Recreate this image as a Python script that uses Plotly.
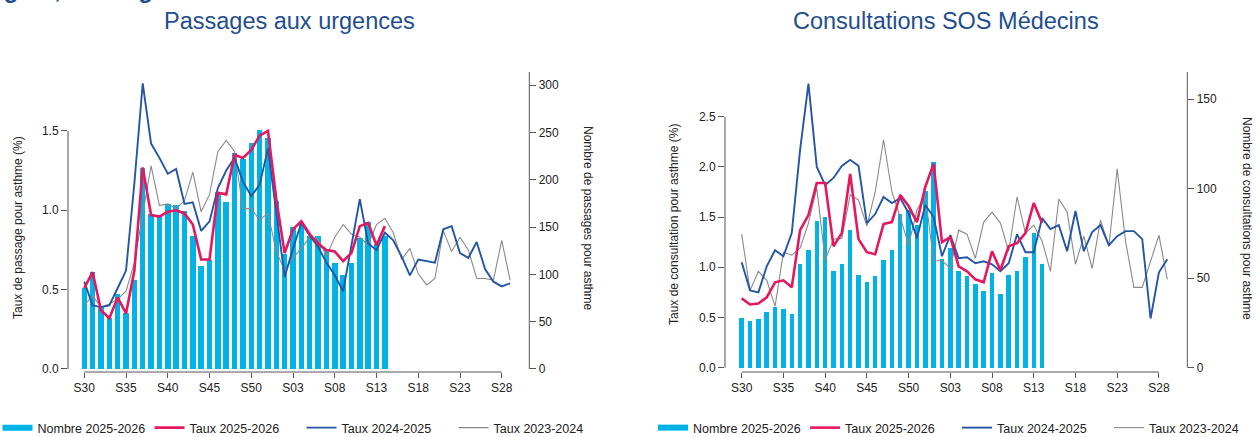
import plotly.graph_objects as go

W, H = 1260, 437

weeks = ["S30", "S31", "S32", "S33", "S34", "S35", "S36", "S37", "S38", "S39",
         "S40", "S41", "S42", "S43", "S44", "S45", "S46", "S47", "S48", "S49",
         "S50", "S51", "S52", "S01", "S02", "S03", "S04", "S05", "S06", "S07",
         "S08", "S09", "S10", "S11", "S12", "S13", "S14", "S15", "S16", "S17",
         "S18", "S19", "S20", "S21", "S22", "S23", "S24", "S25", "S26", "S27",
         "S28", "S29"]
tick_weeks = ["S30", "S35", "S40", "S45", "S50", "S03", "S08", "S13", "S18", "S23", "S28"]

# ---- Passages aux urgences ----
urg_nombre_2025_26 = [86, 103, 66, 54, 79, 59, 94, 212, 164, 163,
                      174, 173, 167, 140, 109, 115, 187, 176, 228, 222,
                      239, 253, 244, 178, 121, 150, 155, 140, 140, 126,
                      112, 99, 112, 138, 155, 132, 140]
urg_taux_2025_26 = [0.51, 0.61, 0.37, 0.32, 0.45, 0.35, 0.62, 1.27, 0.97, 0.96,
                    0.99, 1.00, 0.98, 0.91, 0.69, 0.69, 1.11, 1.10, 1.35, 1.33,
                    1.38, 1.47, 1.50, 1.07, 0.73, 0.88, 0.93, 0.85, 0.79, 0.75,
                    0.74, 0.68, 0.73, 0.90, 0.92, 0.78, 0.90]
urg_taux_2024_25 = [0.55, 0.40, 0.39, 0.40, 0.51, 0.62, 1.17, 1.80, 1.42, 1.33,
                    1.23, 1.26, 1.04, 1.05, 0.87, 0.93, 1.14, 1.25, 1.33, 1.18,
                    1.09, 1.16, 1.39, 1.00, 0.58, 0.76, 0.92, 0.84, 0.77, 0.67,
                    0.59, 0.49, 0.79, 1.07, 0.79, 0.75, 0.86, 0.81, 0.71, 0.59,
                    0.69, 0.68, 0.67, 0.88, 0.90, 0.73, 0.70, 0.80, 0.63, 0.55,
                    0.52, 0.54]
urg_taux_2023_24 = [0.40, 0.46, 0.39, 0.41, 0.44, 0.49, 0.67, 0.98, 1.28, 1.03,
                    1.04, 1.01, 1.06, 1.24, 0.99, 1.10, 1.37, 1.44, 1.37, 1.01,
                    1.01, 0.94, 0.98, 0.74, 0.62, 0.70, 0.76, 0.83, 0.82, 0.71,
                    0.83, 0.91, 0.85, 0.83, 0.78, 0.91, 0.95, 0.86, 0.69, 0.76,
                    0.60, 0.53, 0.57, 0.87, 0.74, 0.83, 0.75, 0.57, 0.57, 0.56,
                    0.81, 0.56]
urg_rate_ticks = [0.0, 0.5, 1.0, 1.5]
urg_count_ticks = [0, 50, 100, 150, 200, 250, 300]

# ---- Consultations SOS Médecins ----
sos_nombre_2025_26 = [28, 26, 27, 31, 34, 33, 30, 58, 66, 82,
                      84, 54, 58, 77, 52, 48, 51, 60, 66, 86,
                      88, 80, 99, 115, 61, 67, 54, 51, 47, 43,
                      53, 41, 52, 54, 62, 75, 58]
sos_taux_2025_26 = [0.69, 0.63, 0.64, 0.70, 0.85, 0.87, 0.80, 1.37, 1.52, 1.84,
                    1.84, 1.21, 1.34, 1.93, 1.28, 1.15, 1.13, 1.43, 1.45, 1.72,
                    1.61, 1.45, 1.80, 2.03, 1.25, 1.30, 1.01, 0.96, 0.88, 0.85,
                    1.16, 0.97, 1.21, 1.24, 1.34, 1.64, 1.44]
sos_taux_2024_25 = [1.05, 0.77, 0.75, 1.01, 1.17, 1.11, 1.34, 2.17, 2.83, 2.00,
                    1.82, 1.89, 2.01, 2.07, 2.01, 1.44, 1.53, 1.70, 1.64, 1.69,
                    1.54, 1.29, 1.62, 1.50, 1.11, 1.32, 1.09, 1.10, 1.04, 1.06,
                    1.03, 0.96, 1.04, 1.33, 1.15, 1.15, 1.49, 1.38, 1.42, 1.16,
                    1.56, 1.16, 1.35, 1.42, 1.22, 1.31, 1.36, 1.36, 1.28, 0.49,
                    0.95, 1.08]
sos_taux_2023_24 = [1.33, 0.77, 0.96, 0.87, 0.61, 1.15, 1.12, 1.19, 1.44, 1.79,
                    1.07, 1.28, 1.29, 1.72, 1.67, 1.41, 1.75, 2.27, 1.75, 1.50,
                    1.22, 1.57, 1.72, 1.06, 1.07, 0.99, 1.37, 1.33, 1.09, 1.45,
                    1.55, 1.44, 1.16, 1.70, 1.34, 1.42, 1.26, 0.96, 1.68, 1.55,
                    1.03, 1.31, 0.99, 1.47, 1.21, 1.98, 1.26, 0.80, 0.80, 1.06,
                    1.32, 0.88]
sos_rate_ticks = [0.0, 0.5, 1.0, 1.5, 2.0, 2.5]
sos_count_ticks = [0, 50, 100, 150]

C_BAR = "#00B2E6"
C_RED = "#E5175E"
C_BLUE = "#2456A4"
C_GRAY = "#8A8A8A"
C_TITLE = "#1F4E8F"
C_AXIS = "#555555"
FONT = "Liberation Sans, Arial, sans-serif"

def px(p):
    return p / W

def py(p):
    return 1 - p / H

ydom = [py(372), py(72)]

fig = go.Figure()

def add_panel(xa, ya_cnt, ya_rate, legend, counts, r_cur, r_prev, r_prev2, bw):
    xr = "x" if xa == "xaxis" else "x" + xa[5:]
    yc = "y" if ya_cnt == "yaxis" else "y" + ya_cnt[5:]
    yr = "y" + ya_rate[5:]
    n = len(counts)
    fig.add_trace(go.Scatter(x=[None], y=[None], mode="lines", name="Nombre 2025-2026",
                             line=dict(color=C_BAR, width=6), xaxis=xr, yaxis=yc,
                             legend=legend, legendrank=1, hoverinfo="skip"))
    fig.add_trace(go.Bar(x=weeks[:n], y=counts, marker=dict(color=C_BAR, line=dict(width=0)),
                         width=bw, xaxis=xr, yaxis=yc, showlegend=False))
    fig.add_trace(go.Scatter(x=weeks[:len(r_prev2)], y=r_prev2, mode="lines", name="Taux 2023-2024",
                             line=dict(color=C_GRAY, width=1.1), xaxis=xr, yaxis=yr,
                             legend=legend, legendrank=4))
    fig.add_trace(go.Scatter(x=weeks[:len(r_prev)], y=r_prev, mode="lines", name="Taux 2024-2025",
                             line=dict(color=C_BLUE, width=1.9), xaxis=xr, yaxis=yr,
                             legend=legend, legendrank=3))
    fig.add_trace(go.Scatter(x=weeks[:len(r_cur)], y=r_cur, mode="lines", name="Taux 2025-2026",
                             line=dict(color=C_RED, width=2.6), xaxis=xr, yaxis=yr,
                             legend=legend, legendrank=2))

add_panel("xaxis", "yaxis", "yaxis2", "legend", urg_nombre_2025_26,
          urg_taux_2025_26, urg_taux_2024_25, urg_taux_2023_24, 0.66)
add_panel("xaxis2", "yaxis3", "yaxis4", "legend2", sos_nombre_2025_26,
          sos_taux_2025_26, sos_taux_2024_25, sos_taux_2023_24, 0.54)

tickfont = dict(family=FONT, size=12, color="#222")
common_x = dict(type="category", categoryorder="array", categoryarray=weeks,
                tickvals=tick_weeks, ticks="outside", ticklen=5, tickcolor=C_AXIS,
                tickfont=tickfont, showline=False, showgrid=False, zeroline=False,
                automargin=False)
common_y = dict(ticks="outside", ticklen=6, tickcolor=C_AXIS, tickfont=tickfont,
                showline=False, showgrid=False, zeroline=False, domain=ydom,
                automargin=False)

urg_cnt_range = [-3.2, 313.8]
urg_rate_range = [-0.019, 1.871]
sos_cnt_range = [-2.4, 165.2]
sos_rate_range = [-0.043, 2.945]

fig.update_layout(
    width=W, height=H,
    margin=dict(l=0, r=0, t=0, b=0, autoexpand=False),
    paper_bgcolor="white", plot_bgcolor="white",
    font=dict(family=FONT, color="#222"),
    bargap=0,
    xaxis=dict(domain=[px(68), px(529.3)], range=[-1.95, 53.3], anchor="y", **common_x),
    yaxis=dict(anchor="x", side="right", range=urg_cnt_range, tickvals=urg_count_ticks, **common_y),
    yaxis2=dict(anchor="x", side="left", overlaying="y", range=urg_rate_range,
                tickvals=urg_rate_ticks, tickformat=".1f", **common_y),
    xaxis2=dict(domain=[px(725), px(1187.3)], range=[-2.0, 53.4], anchor="y3", **common_x),
    yaxis3=dict(anchor="x2", side="right", range=sos_cnt_range, tickvals=sos_count_ticks, **common_y),
    yaxis4=dict(anchor="x2", side="left", overlaying="y3", range=sos_rate_range,
                tickvals=sos_rate_ticks, tickformat=".1f", **common_y),
    legend=dict(orientation="h", x=px(-2.5), xanchor="left", y=py(428), yanchor="middle",
                font=dict(family=FONT, size=12.5, color="#222"), entrywidth=107,
                entrywidthmode="pixels", itemwidth=30, bgcolor="rgba(0,0,0,0)"),
    legend2=dict(orientation="h", x=px(653), xanchor="left", y=py(428), yanchor="middle",
                 font=dict(family=FONT, size=12.5, color="#222"), entrywidth=107,
                 entrywidthmode="pixels", itemwidth=30, bgcolor="rgba(0,0,0,0)"),
    showlegend=True,
)

# R-style axis lines
shapes = []
for xr, ycnt, yrate, rate_ticks, cnt_range in [("x", "y", "y2", urg_rate_ticks, urg_cnt_range),
                                               ("x2", "y3", "y4", sos_rate_ticks, sos_cnt_range)]:
    shapes.append(dict(type="line", xref=xr, yref=ycnt + " domain",
                       x0=weeks.index(tick_weeks[0]), x1=weeks.index(tick_weeks[-1]), y0=0, y1=0,
                       line=dict(color=C_AXIS, width=1)))
    shapes.append(dict(type="line", xref=xr + " domain", yref=yrate, x0=0, x1=0,
                       y0=rate_ticks[0], y1=rate_ticks[-1], line=dict(color=C_AXIS, width=1)))
    shapes.append(dict(type="line", xref=xr + " domain", yref=ycnt, x0=1, x1=1,
                       y0=0, y1=cnt_range[1], line=dict(color=C_AXIS, width=1)))
fig.update_layout(shapes=shapes)

ann = [
    dict(text="Passages aux urgences", x=px(289), y=py(21), xref="paper", yref="paper",
         xanchor="center", yanchor="middle", showarrow=False,
         font=dict(family=FONT, size=23.5, color=C_TITLE)),
    dict(text="Consultations SOS Médecins", x=px(945.5), y=py(21), xref="paper", yref="paper",
         xanchor="center", yanchor="middle", showarrow=False,
         font=dict(family=FONT, size=23.5, color=C_TITLE)),
    dict(text="<b>région, tous âges</b>", x=px(-21), y=py(4.5), xref="paper", yref="paper",
         xanchor="left", yanchor="bottom", showarrow=False,
         font=dict(family=FONT, size=24, color=C_TITLE)),
    dict(text="Taux de passage pour asthme (%)", x=px(18), y=py(228), xref="paper", yref="paper",
         xanchor="center", yanchor="middle",
         textangle=-90, showarrow=False, font=dict(family=FONT, size=12, color="#222")),
    dict(text="Nombre de passages pour asthme", x=px(588), y=py(218), xref="paper", yref="paper",
         xanchor="center", yanchor="middle",
         textangle=90, showarrow=False, font=dict(family=FONT, size=12, color="#222")),
    dict(text="Taux de consultation pour asthme (%)", x=px(674), y=py(225), xref="paper", yref="paper",
         xanchor="center", yanchor="middle",
         textangle=-90, showarrow=False, font=dict(family=FONT, size=12, color="#222")),
    dict(text="Nombre de consultations pour asthme", x=px(1247), y=py(218), xref="paper", yref="paper",
         xanchor="center", yanchor="middle",
         textangle=90, showarrow=False, font=dict(family=FONT, size=12, color="#222")),
]
fig.update_layout(annotations=ann)

fig.write_html("out.html", config={"displayModeBar": False},
               post_script="document.body.style.margin='0px';")
